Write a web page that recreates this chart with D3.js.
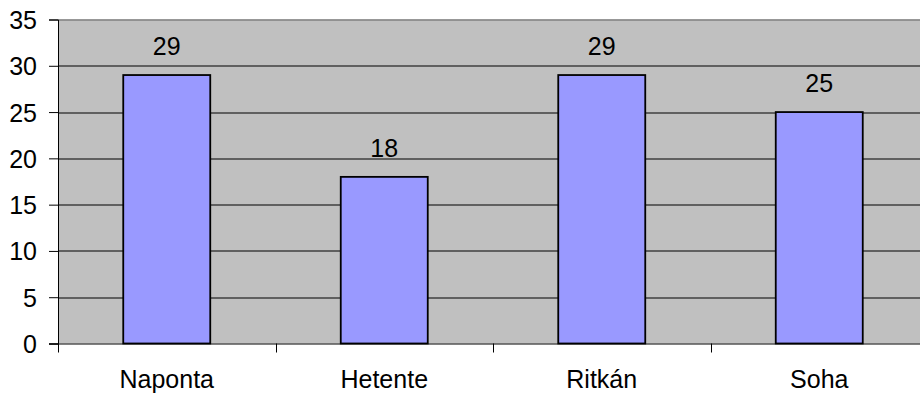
<!DOCTYPE html>
<html>
<head>
<meta charset="utf-8">
<script src="https://cdn.jsdelivr.net/npm/d3@7"></script>
<style>
  body { margin: 0; background: #fff; }
  svg { display: block; font-family: "Liberation Sans", Arial, sans-serif; }
</style>
</head>
<body>
<div id="chart"></div>
<script>
var categories = ["Naponta", "Hetente", "Ritkán", "Soha"];
var values = [29, 18, 29, 25];
var yTicks = [0, 5, 10, 15, 20, 25, 30, 35];

var margin = {top: 19.5, right: -8, bottom: 52.5, left: 58};
var totalW = 920, totalH = 396;
var width = totalW - margin.left - margin.right;
var height = totalH - margin.top - margin.bottom;

var svg = d3.select("#chart")
    .append("svg")
    .attr("width", totalW)
    .attr("height", totalH);

var g = svg.append("g")
    .attr("transform", `translate(${margin.left},${margin.top})`);

var xScale = d3.scaleBand()
    .domain(categories)
    .range([0, width])
    .paddingInner(0.6)
    .paddingOuter(0.3);

var yScale = d3.scaleLinear()
    .domain([0, 35])
    .range([height, 0]);

// plot background
g.append("rect")
    .attr("x", 0).attr("y", 0)
    .attr("width", width).attr("height", height)
    .attr("fill", "#c0c0c0");

// gridlines
g.selectAll(".grid")
    .data(yTicks.filter(d => d > 0 && d < 35))
    .enter().append("line")
    .attr("x1", 0).attr("x2", width)
    .attr("y1", d => Math.round(yScale(d)) + 0.5)
    .attr("y2", d => Math.round(yScale(d)) + 0.5)
    .attr("stroke", "#000")
    .attr("stroke-width", 1.2);

// top border
g.append("line")
    .attr("x1", 0).attr("x2", width)
    .attr("y1", 0.5).attr("y2", 0.5)
    .attr("stroke", "#808080")
    .attr("stroke-width", 1.5);

// bars
g.selectAll(".bar")
    .data(values)
    .enter().append("rect")
    .attr("class", "bar")
    .attr("x", (d, i) => xScale(categories[i]))
    .attr("y", d => yScale(d))
    .attr("width", xScale.bandwidth())
    .attr("height", d => height - yScale(d))
    .attr("fill", "#9999ff")
    .attr("stroke", "#000")
    .attr("stroke-width", 1.8);

// value labels
g.selectAll(".val")
    .data(values)
    .enter().append("text")
    .attr("x", (d, i) => xScale(categories[i]) + xScale.bandwidth() / 2)
    .attr("y", d => yScale(d) - 20)
    .attr("text-anchor", "middle")
    .attr("font-size", "25px")
    .attr("fill", "#000")
    .text(d => d);

// y axis
var yAxis = d3.axisLeft(yScale)
    .tickValues(yTicks)
    .tickSize(9)
    .tickPadding(12);

var ya = g.append("g").call(yAxis);
ya.select(".domain").attr("stroke", "#000");
ya.selectAll(".tick line").attr("stroke", "#000");
ya.selectAll(".tick text")
    .attr("font-size", "25px")
    .attr("font-family", "Liberation Sans, Arial, sans-serif")
    .attr("fill", "#000")
    .attr("dy", "0.36em");

// x axis
var xa = g.append("g")
    .attr("transform", `translate(0,${height})`);

xa.append("line")
    .attr("x1", -9).attr("x2", width)
    .attr("y1", 0.5).attr("y2", 0.5)
    .attr("stroke", "#000");

var step = xScale.step();
xa.selectAll(".xtick")
    .data(d3.range(categories.length + 1))
    .enter().append("line")
    .attr("x1", i => Math.round(i * step) + 0.5)
    .attr("x2", i => Math.round(i * step) + 0.5)
    .attr("y1", 0).attr("y2", 9)
    .attr("stroke", "#000");

xa.selectAll(".xlabel")
    .data(categories)
    .enter().append("text")
    .attr("x", d => xScale(d) + xScale.bandwidth() / 2)
    .attr("y", 44)
    .attr("text-anchor", "middle")
    .attr("font-size", "25px")
    .attr("fill", "#000")
    .text(d => d);
</script>
</body>
</html>
